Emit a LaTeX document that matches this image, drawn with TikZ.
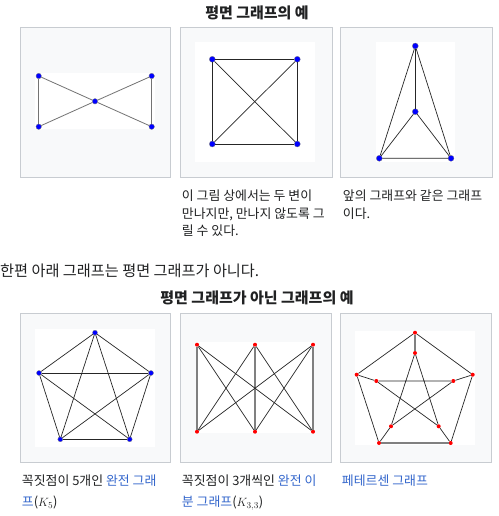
\documentclass[tikz,border=0pt]{standalone}
\usepackage{fontspec}
\setmainfont{Noto Sans CJK KR}
\definecolor{panelbg}{HTML}{F8F9FA}
\definecolor{panelline}{HTML}{C8CCD1}
\definecolor{linkblue}{HTML}{3366CC}
\definecolor{bodytext}{HTML}{202122}
\tikzset{
  panel/.style={draw=panelline, fill=panelbg, line width=0.9pt},
  canvas/.style={fill=white},
  bvtx/.style={circle, fill=blue, draw=black!50, line width=0.3pt, inner sep=0pt, minimum size=5.5pt},
  rvtx/.style={circle, fill=red, inner sep=0pt, minimum size=4pt},
  gedge/.style={draw=black!55, line width=0.8pt},
  kedge/.style={draw=black!85, line width=0.7pt},
  wedge/.style={draw=black!50, line width=1.6pt},
  title/.style={font=\fontsize{15}{18}\selectfont\bfseries, text=bodytext},
  caption/.style={font=\fontsize{12.9}{17.5}\selectfont, text=bodytext, align=left, anchor=north west, inner sep=0pt},
}
\begin{document}
\begin{tikzpicture}[x=1pt,y=-1pt]
\useasboundingbox[fill=white] (0,0) rectangle (498,516);

% TITLES
\node[title] (title1) at (257,13) {평면 그래프의 예};
\node[title] (title2) at (257,298) {평면 그래프가 아닌 그래프의 예};
\node[font=\fontsize{15.2}{18}\selectfont, text=bodytext, anchor=west, inner sep=0pt] (body) at (0,271) {한편 아래 그래프는 평면 그래프가 아니다.};

% PANELS
\draw[panel] (20,27) rectangle (170,177);
\draw[panel] (180,27) rectangle (332,177);
\draw[panel] (340,27) rectangle (492,177);
\draw[panel] (20,313) rectangle (170,462);
\draw[panel] (180,313) rectangle (331,462);
\draw[panel] (340,313) rectangle (491,462);

\fill[canvas] (35,73) rectangle (155,129);
\fill[canvas] (195,42) rectangle (315,162);
\fill[canvas] (376,42) rectangle (455,162);
\fill[canvas] (35,329) rectangle (155,447);
\fill[canvas] (196,342) rectangle (314,433);
\fill[canvas] (355,331) rectangle (475,445);

% bow tie
\node[bvtx] (p1) at (38.7,76) {};
\node[bvtx] (p2) at (151.7,76) {};
\node[bvtx] (p3) at (95,101.3) {};
\node[bvtx] (p4) at (38.7,126.7) {};
\node[bvtx] (p5) at (151.7,126.7) {};
\draw[gedge] (p1) -- (p3) -- (p5);
\draw[gedge] (p2) -- (p3) -- (p4);
\draw[gedge, line width=1.1pt] (p1) -- (p4);
\draw[gedge, line width=1.1pt] (p2) -- (p5);

% K4 crossed
\node[bvtx, minimum size=6pt] (q1) at (212.3,59.3) {};
\node[bvtx, minimum size=6pt] (q2) at (297.3,59.3) {};
\node[bvtx, minimum size=6pt] (q3) at (212.3,144) {};
\node[bvtx, minimum size=6pt] (q4) at (297.3,144) {};
\draw[kedge] (q1) -- (q2) -- (q4) -- (q3) -- (q1);
\draw[kedge] (q1) -- (q4);
\draw[kedge] (q2) -- (q3);

% K4 planar
\node[bvtx, minimum size=6pt] (r1) at (415.3,46) {};
\node[bvtx, minimum size=6pt] (r2) at (415.3,111.7) {};
\node[bvtx, minimum size=6pt] (r3) at (379.3,158.3) {};
\node[bvtx, minimum size=6pt] (r4) at (451,158.3) {};
\draw[kedge] (r1) -- (r2);
\draw[kedge] (r1) -- (r3) -- (r4) -- (r1);
\draw[kedge] (r2) -- (r3);
\draw[kedge] (r2) -- (r4);

% K5
\node[bvtx, minimum size=5pt] (s1) at (95,332.7) {};
\node[bvtx, minimum size=5pt] (s2) at (151,373) {};
\node[bvtx, minimum size=5pt] (s3) at (129.7,439.3) {};
\node[bvtx, minimum size=5pt] (s4) at (60.3,439.3) {};
\node[bvtx, minimum size=5pt] (s5) at (39,373) {};
\foreach \i/\j in {1/2,1/3,1/4,1/5,2/3,2/4,2/5,3/4,3/5,4/5}
  \draw[kedge] (s\i) -- (s\j);

% K33
\node[rvtx] (t1) at (197,344.7) {};
\node[rvtx] (t2) at (255,344.7) {};
\node[rvtx] (t3) at (313,344.7) {};
\node[rvtx] (u1) at (197,431.7) {};
\node[rvtx] (u2) at (255,431.7) {};
\node[rvtx] (u3) at (313,431.7) {};
\foreach \i in {1,2,3}
  \draw[wedge] (t\i) -- (u\i);
\foreach \i/\j in {1/2,1/3,2/1,2/3,3/1,3/2}
  \draw[kedge] (t\i) -- (u\j);

% Petersen
\node[rvtx] (o1) at (415,332.7) {};
\node[rvtx] (o2) at (472.7,374.7) {};
\node[rvtx] (o3) at (450.7,443) {};
\node[rvtx] (o4) at (379,443) {};
\node[rvtx] (o5) at (356.7,374.7) {};
\node[rvtx] (i1) at (415,353) {};
\node[rvtx] (i2) at (453.3,381) {};
\node[rvtx] (i3) at (438.7,426.3) {};
\node[rvtx] (i4) at (391,426.3) {};
\node[rvtx] (i5) at (376.3,381) {};
\draw[kedge] (o5) -- (o1) -- (o2) -- (o3);
\draw[kedge] (o4) -- (o5);
\draw[wedge] (o3) -- (o4);
\draw[wedge] (o1) -- (i1);
\foreach \k in {2,3,4,5}
  \draw[kedge] (o\k) -- (i\k);
\draw[kedge] (i1) -- (i3) -- (i5) -- (i2) -- (i4) -- (i1);

% CAPTIONS
\node[caption] (cap2) at (181.7,190) {이 그림 상에서는 두 변이\\만나지만, 만나지 않도록 그\\릴 수 있다.};
\node[caption] (cap3) at (342.7,190) {앞의 그래프와 같은 그래프\\이다.};
\node[caption] (cap4) at (21.7,475) {꼭짓점이 5개인 \textcolor{linkblue}{완전 그래}\\[3pt]\textcolor{linkblue}{프}($K_5$)};
\node[caption] (cap5) at (181.7,475) {꼭짓점이 3개씩인 \textcolor{linkblue}{완전 이}\\[3pt]\textcolor{linkblue}{분 그래프}($K_{3,3}$)};
\node[caption] (cap6) at (341.7,475) {\textcolor{linkblue}{페테르센 그래프}};
\end{tikzpicture}
\end{document}
